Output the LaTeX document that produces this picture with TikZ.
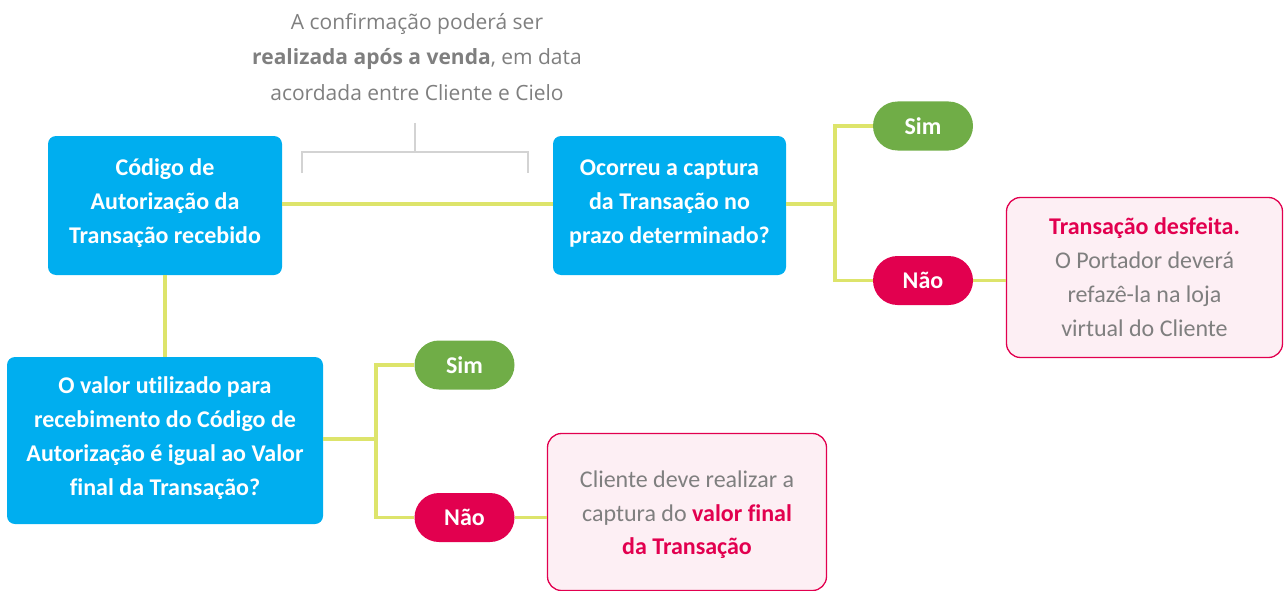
\documentclass[tikz,border=0pt]{standalone}
\usepackage{fontspec}
\setmainfont[Ligatures=NoCommon]{Carlito}
\newfontfamily\osans{Open Sans}
\definecolor{cyanbox}{HTML}{00AEEF}
\definecolor{simgreen}{HTML}{70AD47}
\definecolor{naored}{HTML}{E2004F}
\definecolor{pinkfill}{HTML}{FDEFF4}
\definecolor{linegreen}{HTML}{DDE46B}
\definecolor{txtgray}{HTML}{7F7F7F}
\definecolor{brgray}{HTML}{D3D3D3}
\tikzset{
  cbox/.style={fill=cyanbox, rounded corners=8pt, text=white, align=center, inner sep=0pt,
     font=\fontsize{24}{34}\selectfont\bfseries},
  pill/.style={rounded corners=24.5pt, text=white, minimum width=100pt, minimum height=49pt,
     inner sep=0pt, font=\fontsize{24}{28}\selectfont\bfseries},
  pbox/.style={draw=naored, line width=1.3pt, fill=pinkfill, rounded corners=14pt, align=center,
     inner sep=0pt, text=txtgray, font=\fontsize{24}{34}\selectfont},
  ptext/.style={align=center, inner sep=0pt, text=txtgray, font=\fontsize{24}{33.5}\selectfont},
  conn/.style={draw=linegreen, line width=3.5pt},
  bracket/.style={draw=brgray, line width=1.4pt}
}
\begin{document}
\begin{tikzpicture}[x=1pt,y=-1pt]
\useasboundingbox (0,0) rectangle (1284,591);
% top note
\node[align=center, text=txtgray, font=\osans\fontsize{21}{35.5}\selectfont, inner sep=0pt] (note) at (417,57)
  {A confirmação poderá ser\\ {\bfseries realizada após a venda}, em data\\ acordada entre Cliente e Cielo};
\coordinate (bt) at (415,123);
\coordinate (bm) at (415,152);
\coordinate (bl) at (302,173);
\coordinate (br) at (528,173);
\draw[bracket] (bt) -- (bm);
\draw[bracket] (bl) |- (bm) -| (br);
% boxes
\node[cbox, minimum width=234pt, minimum height=139pt] (b1) at (165,205.5) {};
\node[cbox] (b1t) at (165,203.5) {Código de\\ Autorização da\\ Transação recebido};
\node[cbox, minimum width=233pt, minimum height=139pt] (b2) at (669.5,205.5) {};
\node[cbox] (b2t) at (669.5,203.5) {Ocorreu a captura\\ da Transação no\\ prazo determinado?};
\node[cbox, minimum width=316pt, minimum height=167pt] (b3) at (165,440.5) {};
\node[cbox] (b3t) at (165,438.5)
  {O valor utilizado para\\ recebimento do Código de\\ Autorização é igual ao Valor\\ final da Transação?};
\node[pill, fill=simgreen] (s1) at (923,126) {Sim};
\node[pill, fill=naored] (n1) at (923,280.5) {Não};
\node[pill, fill=simgreen] (s2) at (464.5,365) {Sim};
\node[pill, fill=naored] (n2) at (464.5,517.5) {Não};
\node[pbox, minimum width=276pt, minimum height=160pt] (p1) at (1144.5,277.5)
  {{\bfseries\color{naored}Transação desfeita.}\\ O Portador deverá\\ refazê-la na loja\\ virtual do Cliente};
\node[pbox, minimum width=279pt, minimum height=157pt] (p2) at (687,512) {};
\node[ptext] (p2t) at (687,515)
  {Cliente deve realizar a\\ captura do {\bfseries\color{naored}valor final}\\ {\bfseries\color{naored}da Transação}};
% connectors
\coordinate (j1) at (835,204);
\coordinate (j2) at (376,439);
\draw[conn] (b1.east |- j1) -- (b2.west |- j1);
\draw[conn] (b2.east |- j1) -- (j1);
\draw[conn] (s1.west) -| (j1) |- (n1.west);
\draw[conn] (n1.east) -- (n1.east -| p1.west);
\draw[conn] (b1.south) -- (b3.north);
\draw[conn] (b3.east |- j2) -- (j2);
\draw[conn] (s2.west) -| (j2) |- (n2.west);
\draw[conn] (n2.east) -- (n2.east -| p2.west);
\end{tikzpicture}
\end{document}
